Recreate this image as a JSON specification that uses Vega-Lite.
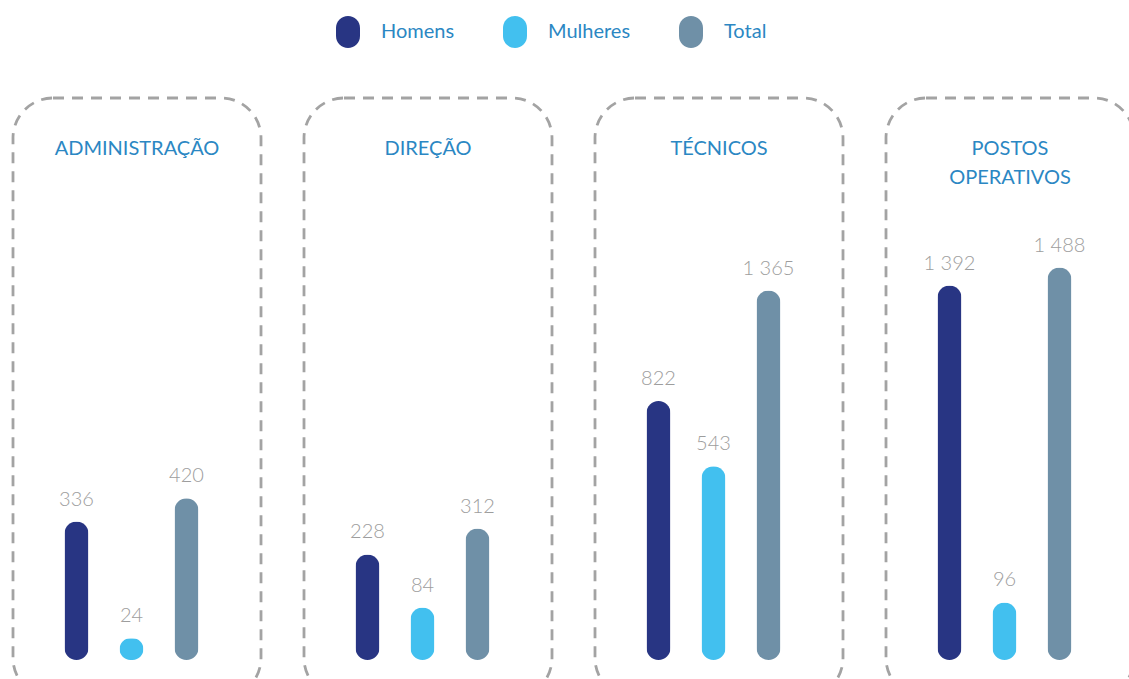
{
  "$schema": "https://vega.github.io/schema/vega-lite/v6.json",
  "padding": {"left": 11, "top": 16, "right": 0, "bottom": 0},
  "config": {
    "locale": {"number": {"decimal": ",", "thousands": " ", "grouping": [3], "currency": ["", " €"]}},
    "view": {"stroke": "#a3a3a3", "strokeWidth": 2.8, "strokeDash": [11, 8], "cornerRadius": 40, "fill": null},
    "font": "Lato"
  },
  "data": {
    "values": [
      {"grupo": "ADMINISTRAÇÃO", "sexo": "Homens", "valor": 336},
      {"grupo": "ADMINISTRAÇÃO", "sexo": "Mulheres", "valor": 24},
      {"grupo": "ADMINISTRAÇÃO", "sexo": "Total", "valor": 420},
      {"grupo": "DIREÇÃO", "sexo": "Homens", "valor": 228},
      {"grupo": "DIREÇÃO", "sexo": "Mulheres", "valor": 84},
      {"grupo": "DIREÇÃO", "sexo": "Total", "valor": 312},
      {"grupo": "TÉCNICOS", "sexo": "Homens", "valor": 822},
      {"grupo": "TÉCNICOS", "sexo": "Mulheres", "valor": 543},
      {"grupo": "TÉCNICOS", "sexo": "Total", "valor": 1365},
      {"grupo": "POSTOS OPERATIVOS", "sexo": "Homens", "valor": 1392},
      {"grupo": "POSTOS OPERATIVOS", "sexo": "Mulheres", "valor": 96},
      {"grupo": "POSTOS OPERATIVOS", "sexo": "Total", "valor": 1488}
    ]
  },
  "spacing": 39,
  "facet": {
    "column": {
      "field": "grupo",
      "type": "nominal",
      "sort": ["ADMINISTRAÇÃO", "DIREÇÃO", "TÉCNICOS", "POSTOS OPERATIVOS"],
      "header": {
        "title": null,
        "labelOrient": "top",
        "labelBaseline": "top",
        "labelPadding": -92,
        "labelFontSize": 20,
        "labelLineHeight": 29,
        "labelColor": "#2b87c3",
        "labelFont": "Lato",
        "labelExpr": "datum.value == 'POSTOS OPERATIVOS' ? ['POSTOS', 'OPERATIVOS'] : [datum.value, '']"
      }
    }
  },
  "spec": {
    "width": 248,
    "height": 600,
    "encoding": {
      "x": {"field": "sexo", "type": "nominal", "sort": ["Homens", "Mulheres", "Total"], "axis": null,
            "scale": {"range": [36, 201], "paddingInner": 0, "paddingOuter": 0}},
      "y": {"field": "valor", "type": "quantitative", "axis": null,
            "scale": {"type": "pow", "exponent": 0.7, "domain": [0, 2486], "range": [562, 0]}}
    },
    "layer": [
      {
        "mark": {"type": "bar", "size": 24, "cornerRadius": 12},
        "encoding": {
          "color": {
            "field": "sexo", "type": "nominal",
            "scale": {"domain": ["Homens", "Mulheres", "Total"], "range": ["#283583", "#42c0ef", "#6f90a7"]},
            "legend": {
              "orient": "none", "legendX": 319, "legendY": -82, "direction": "horizontal", "title": null,
              "symbolType": "M-0.75,-0.25A0.75,0.75,0,0,1,0.75,-0.25L0.75,0.25A0.75,0.75,0,0,1,-0.75,0.25Z",
              "symbolSize": 1024, "symbolStrokeWidth": 0, "symbolOpacity": 1,
              "labelFontSize": 20, "labelColor": "#2b87c3", "labelOffset": 17, "columnPadding": 44, "labelFont": "Lato"
            }
          }
        }
      },
      {
        "mark": {"type": "text", "baseline": "bottom", "dy": -12, "fontSize": 20, "color": "#9d9d9d", "font": "Lato", "fontWeight": 300},
        "encoding": {"text": {"field": "valor", "type": "quantitative", "format": ",d"}}
      }
    ]
  }
}
